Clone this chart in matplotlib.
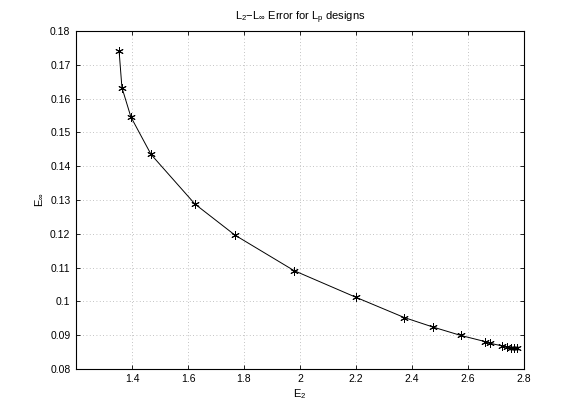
import numpy as np
import matplotlib
matplotlib.use("Agg")
from matplotlib import pyplot as plt

# E2 vs Einf for the Lp designs
e2 = [1.354, 1.364, 1.396, 1.468, 1.625, 1.768, 1.979, 2.200, 2.373, 2.475,
      2.575, 2.661, 2.679, 2.723, 2.740, 2.752, 2.764, 2.775]
einf = [0.1740, 0.1633, 0.1546, 0.1435, 0.1288, 0.1196, 0.1091, 0.1012, 0.0952, 0.0924,
        0.0899, 0.0881, 0.0876, 0.0868, 0.0865, 0.0863, 0.0862, 0.0862]
xticks = [1.4, 1.6, 1.8, 2.0, 2.2, 2.4, 2.6, 2.8]
xticklabels = ["1.4", "1.6", "1.8", "2", "2.2", "2.4", "2.6", "2.8"]
yticks = [0.08, 0.09, 0.1, 0.11, 0.12, 0.13, 0.14, 0.15, 0.16, 0.17, 0.18]
yticklabels = ["0.08", "0.09", "0.1", "0.11", "0.12", "0.13", "0.14", "0.15", "0.16", "0.17", "0.18"]

plt.rcParams['font.family'] = ['Liberation Sans', 'DejaVu Sans']
plt.rcParams['mathtext.fontset'] = 'custom'
plt.rcParams['mathtext.rm'] = 'Liberation Sans'
plt.rcParams['mathtext.it'] = 'Liberation Sans'

fig = plt.figure(figsize=(5.78, 4.15), dpi=100)
ax = fig.add_axes([0.1315, 0.111, 0.775, 0.814])

# asterisk markers like matlab's '*'
ax.plot(e2, einf, color="black", lw=0.7, marker=(6, 2, 0), ms=6, mew=0.7)

ax.set_xlim(1.2, 2.8)
ax.set_ylim(0.08, 0.18)
ax.set_xticks(xticks)
ax.set_xticklabels(xticklabels)
ax.set_yticks(yticks)
ax.set_yticklabels(yticklabels)
ax.tick_params(direction="in", length=3, width=0.6, labelsize=7.5,
               top=True, right=True, pad=4)
ax.grid(True, color="#b0b0b0", linestyle=(0, (1, 3)), linewidth=0.6)
for s in ax.spines.values():
    s.set_linewidth(0.8)

ax.set_title(r"L$_2$$-$L$_\infty$ Error for L$_p$ designs", fontsize=8, pad=8)
ax.set_xlabel(r"E$_2$", fontsize=8, labelpad=2)
ax.set_ylabel(r"E$_\infty$", fontsize=8, labelpad=4)

fig.savefig("out.png", dpi=100)
